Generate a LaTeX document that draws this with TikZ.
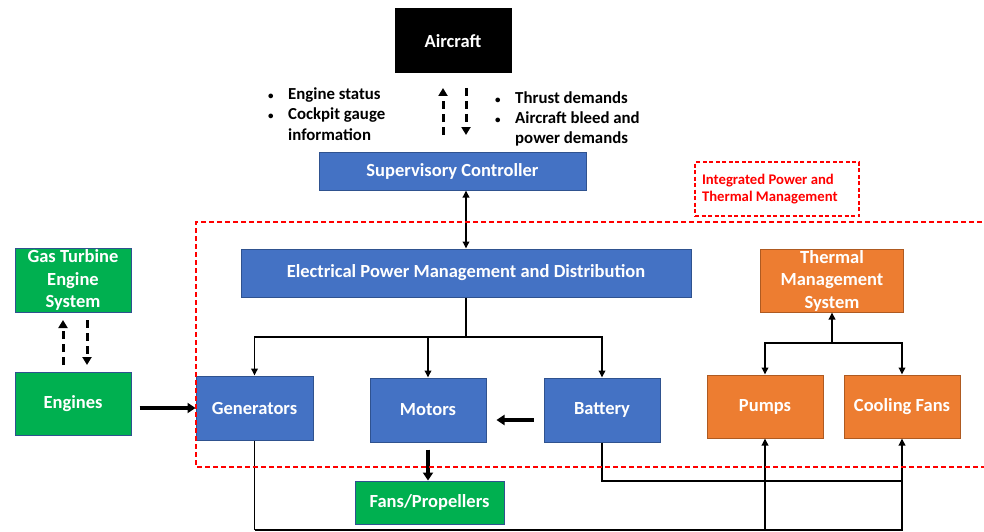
\documentclass[tikz,border=0pt]{standalone}
\usepackage{fontspec}
\setmainfont{Carlito}
\usetikzlibrary{arrows.meta,calc}
\definecolor{boxblue}{HTML}{4472C4}
\definecolor{edgeblue}{HTML}{2F528F}
\definecolor{boxorange}{HTML}{ED7D31}
\definecolor{edgeorange}{HTML}{AE5A21}
\definecolor{boxgreen}{HTML}{00B050}
\definecolor{redline}{HTML}{FF0000}
\tikzset{
  blk/.style={rectangle, draw, line width=1pt, text=white, align=center,
    font=\fontsize{18.5}{22.5}\selectfont\bfseries, inner sep=0pt},
  bluebox/.style={blk, fill=boxblue, draw=edgeblue},
  orangebox/.style={blk, fill=boxorange, draw=edgeorange},
  greenbox/.style={blk, fill=boxgreen, draw=edgeblue},
  conn/.style={line width=1.8pt, -{Triangle[length=7pt,width=6.5pt]}},
  thickconn/.style={line width=3.2pt, -{Triangle[length=8pt,width=10pt]}},
  dashconn/.style={line width=3pt, dash pattern=on 8pt off 5pt, -{Triangle[length=8pt,width=9pt]}},
  bullettext/.style={font=\fontsize{16.8}{20}\selectfont\bfseries, inner sep=0pt, anchor=base west},
}
\newcommand{\bul}{\makebox[20pt][l]{\fontsize{11}{11}\selectfont •}}
\begin{document}
\begin{tikzpicture}[x=1pt,y=-1pt]
\useasboundingbox (0,0) rectangle (984,532);
\fill[white] (0,0) rectangle (984,532);

% nodes
\node[blk, fill=black, draw=black, minimum width=116pt, minimum height=64pt] (aircraft) at (453,41) {Aircraft};
\node[bluebox, minimum width=267pt, minimum height=38pt] (sup) at (452.5,171) {Supervisory Controller};
\node[bluebox, minimum width=450pt, minimum height=48pt] (epmd) at (466,273) {Electrical Power Management and Distribution};
\node[orangebox, minimum width=143pt, minimum height=63pt] (tms) at (832,280.5) {Thermal\\Management\\System};
\node[greenbox, minimum width=116pt, minimum height=64pt] (gtes) at (73,280) {Gas Turbine\\Engine\\System};
\node[greenbox, minimum width=116pt, minimum height=63pt] (engines) at (73,403.5) {Engines};
\node[bluebox, minimum width=117pt, minimum height=64pt] (gen) at (254.5,408) {Generators};
\node[bluebox, minimum width=116pt, minimum height=64pt] (motors) at (428,410) {Motors};
\node[bluebox, minimum width=116pt, minimum height=64pt] (battery) at (602,410) {Battery};
\node[orangebox, minimum width=116pt, minimum height=63pt] (pumps) at (765,406.5) {Pumps};
\node[orangebox, minimum width=116pt, minimum height=63pt] (cfans) at (902,406.5) {Cooling Fans};
\node[greenbox, minimum width=149pt, minimum height=43pt] (fans) at (429.5,502.5) {Fans/Propellers};

% bullet texts
\node[bullettext] (l1) at (268,100) {\bul Engine status};
\node[bullettext] (l2) at (268,120) {\bul Cockpit gauge};
\node[bullettext] (l3) at (288,140) {information};
\node[bullettext] (r1) at (495,103) {\bul Thrust demands};
\node[bullettext] (r2) at (495,123) {\bul Aircraft bleed and};
\node[bullettext] (r3) at (515,143) {power demands};

% red label
\node[draw=redline, line width=1.3pt, dash pattern=on 4pt off 2.5pt, text=redline, align=flush left,
  font=\fontsize{14.7}{17}\selectfont\bfseries, text width=150pt, inner xsep=7pt, inner ysep=0pt,
  minimum height=54pt] (ipt) at (777,189)
  {Integrated Power and\\Thermal Management};

% coordinates
\coordinate (ja) at (466,337);
\coordinate (jt) at (832,343);
\coordinate (b1) at (254.5,530);
\coordinate (b2) at (902,481);
\coordinate (up1s) at (443,135);
\coordinate (up1e) at (443,88);
\coordinate (dn1s) at (466,88);
\coordinate (dn1e) at (466,135);
\coordinate (up2s) at (63,365);
\coordinate (up2e) at (63,320);
\coordinate (dn2s) at (87,320);
\coordinate (dn2e) at (87,365);

% dashed arrows
\draw[dashconn] (up1s) -- (up1e);
\draw[dashconn] (dn1s) -- (dn1e);
\draw[dashconn] (up2s) -- (up2e);
\draw[dashconn] (dn2s) -- (dn2e);

% connectors
\draw[line width=1.8pt, {Triangle[length=7pt,width=6.5pt]}-{Triangle[length=7pt,width=6.5pt]}] (epmd.north |- sup.south) -- (epmd.north);
\draw[line width=1.8pt] (epmd.south) -- (ja);
\draw[conn] (ja) -| (gen.north);
\draw[conn] (ja) -| (battery.north);
\draw[conn] (motors.north |- ja) -- (motors.north);
\draw[thickconn, shorten <=8pt] (engines.east |- gen.west) -- (gen.west);
\draw[thickconn, shorten <=10pt, shorten >=10pt] ($(battery.west)+(0,10)$) -- ($(motors.east)+(0,10)$);
\draw[thickconn, shorten <=7pt] (motors.south) -- (motors.south |- fans.north);
\draw[line width=1.8pt] (gen.south) -- (b1);
\draw[conn] (b1) -| (pumps.south);
\draw[conn] (b1) -| (cfans.south);
\draw[line width=1.3pt] (battery.south) |- (b2);
\draw[conn] (jt) -- (tms.south);
\draw[conn] (jt) -| (pumps.north);
\draw[conn] (jt) -| (cfans.north);

% integrated region
\draw[redline, line width=1.5pt, dash pattern=on 5pt off 3pt] (990,222) -- (196,222) -- (196,467) -- (990,467);
\end{tikzpicture}
\end{document}
